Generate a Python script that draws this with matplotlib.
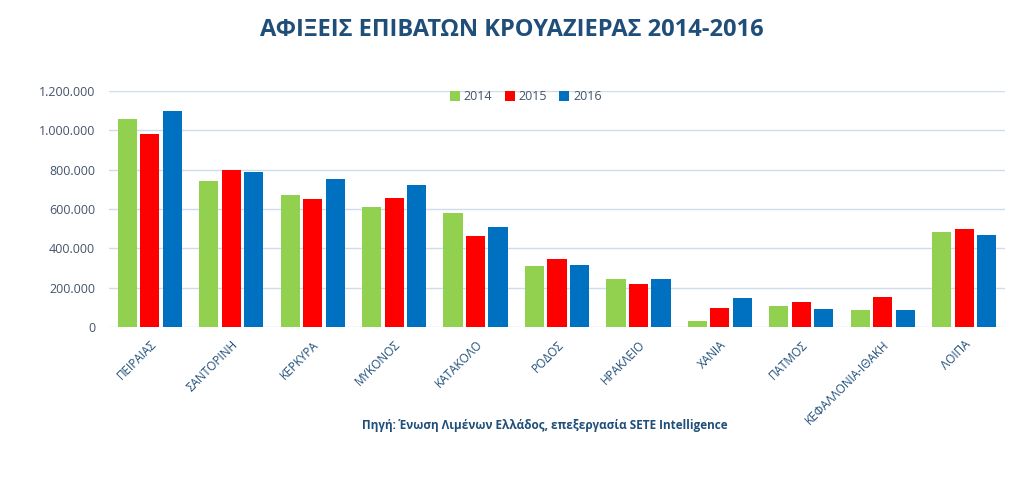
import matplotlib
matplotlib.use("Agg")
import matplotlib.pyplot as plt
import numpy as np
from matplotlib.ticker import FuncFormatter

plt.rcParams['font.family'] = ['Open Sans', 'DejaVu Sans']

ports = ['ΠΕΙΡΑΙΑΣ', 'ΣΑΝΤΟΡΙΝΗ', 'ΚΕΡΚΥΡΑ', 'ΜΥΚΟΝΟΣ', 'ΚΑΤΑΚΟΛΟ', 'ΡΟΔΟΣ',
         'ΗΡΑΚΛΕΙΟ', 'ΧΑΝΙΑ', 'ΠΑΤΜΟΣ', 'ΚΕΦΑΛΛΟΝΙΑ-ΙΘΑΚΗ', 'ΛΟΙΠΑ']
years = ['2014', '2015', '2016']
v2014 = [1056000, 743000, 672000, 608000, 582000, 310000, 242000, 29000, 107000, 85000, 481000]
v2015 = [982000, 797000, 650000, 655000, 464000, 344000, 220000, 96000, 127000, 152000, 499000]
v2016 = [1097000, 789000, 751000, 724000, 508000, 317000, 242000, 149000, 93000, 86000, 467000]
colors = ['#92D050', '#FF0000', '#0070C0']

dark_blue = '#1F4E79'
axis_grey = '#44546A'

fig = plt.figure(figsize=(10.24, 4.91), dpi=100)
ax = fig.add_axes([109 / 1024, 1 - 327 / 491, (1005 - 109) / 1024, (327 - 91) / 491])

x = np.arange(len(ports))
step = 0.276
width = 0.235
for i, (vals, yr) in enumerate(zip([v2014, v2015, v2016], years)):
    ax.bar(x + (i - 1) * step, vals, width, color=colors[i], label=yr, zorder=3)

ax.set_xlim(-0.5, len(ports) - 0.5)
ax.set_ylim(0, 1200000)
ax.set_yticks(np.arange(0, 1200001, 200000))
ax.yaxis.set_major_formatter(FuncFormatter(lambda v, p: f'{int(v):,}'.replace(',', '.')))
ax.grid(axis='y', color='#D0DCEC', linewidth=1, zorder=0)
for s in ax.spines.values():
    s.set_visible(False)
ax.tick_params(axis='both', length=0)
ax.tick_params(axis='y', labelsize=9, labelcolor=axis_grey, pad=10)

ax.set_xticks(x)
ax.set_xticklabels(ports, rotation=45, ha='right', rotation_mode='anchor',
                   fontsize=8.5, color=dark_blue)
ax.tick_params(axis='x', pad=8)

leg = ax.legend(loc='upper center', bbox_to_anchor=(0.465, 1.05), ncol=3, frameon=False,
                fontsize=9, handlelength=0.8, handleheight=0.8, handletextpad=0.3,
                columnspacing=1.0)
for t in leg.get_texts():
    t.set_color(axis_grey)

fig.text(0.5, 1 - 30 / 491, 'ΑΦΙΞΕΙΣ ΕΠΙΒΑΤΩΝ ΚΡΟΥΑΖΙΕΡΑΣ 2014-2016', ha='center', va='center',
         fontsize=17, fontweight='bold', color=dark_blue)
fig.text(545 / 1024, 1 - 426 / 491, 'Πηγή: Ένωση Λιμένων Ελλάδος, επεξεργασία SETE Intelligence',
         ha='center', va='center', fontsize=8.5, fontweight='bold', color=dark_blue)

fig.savefig('out.png', dpi=100)
